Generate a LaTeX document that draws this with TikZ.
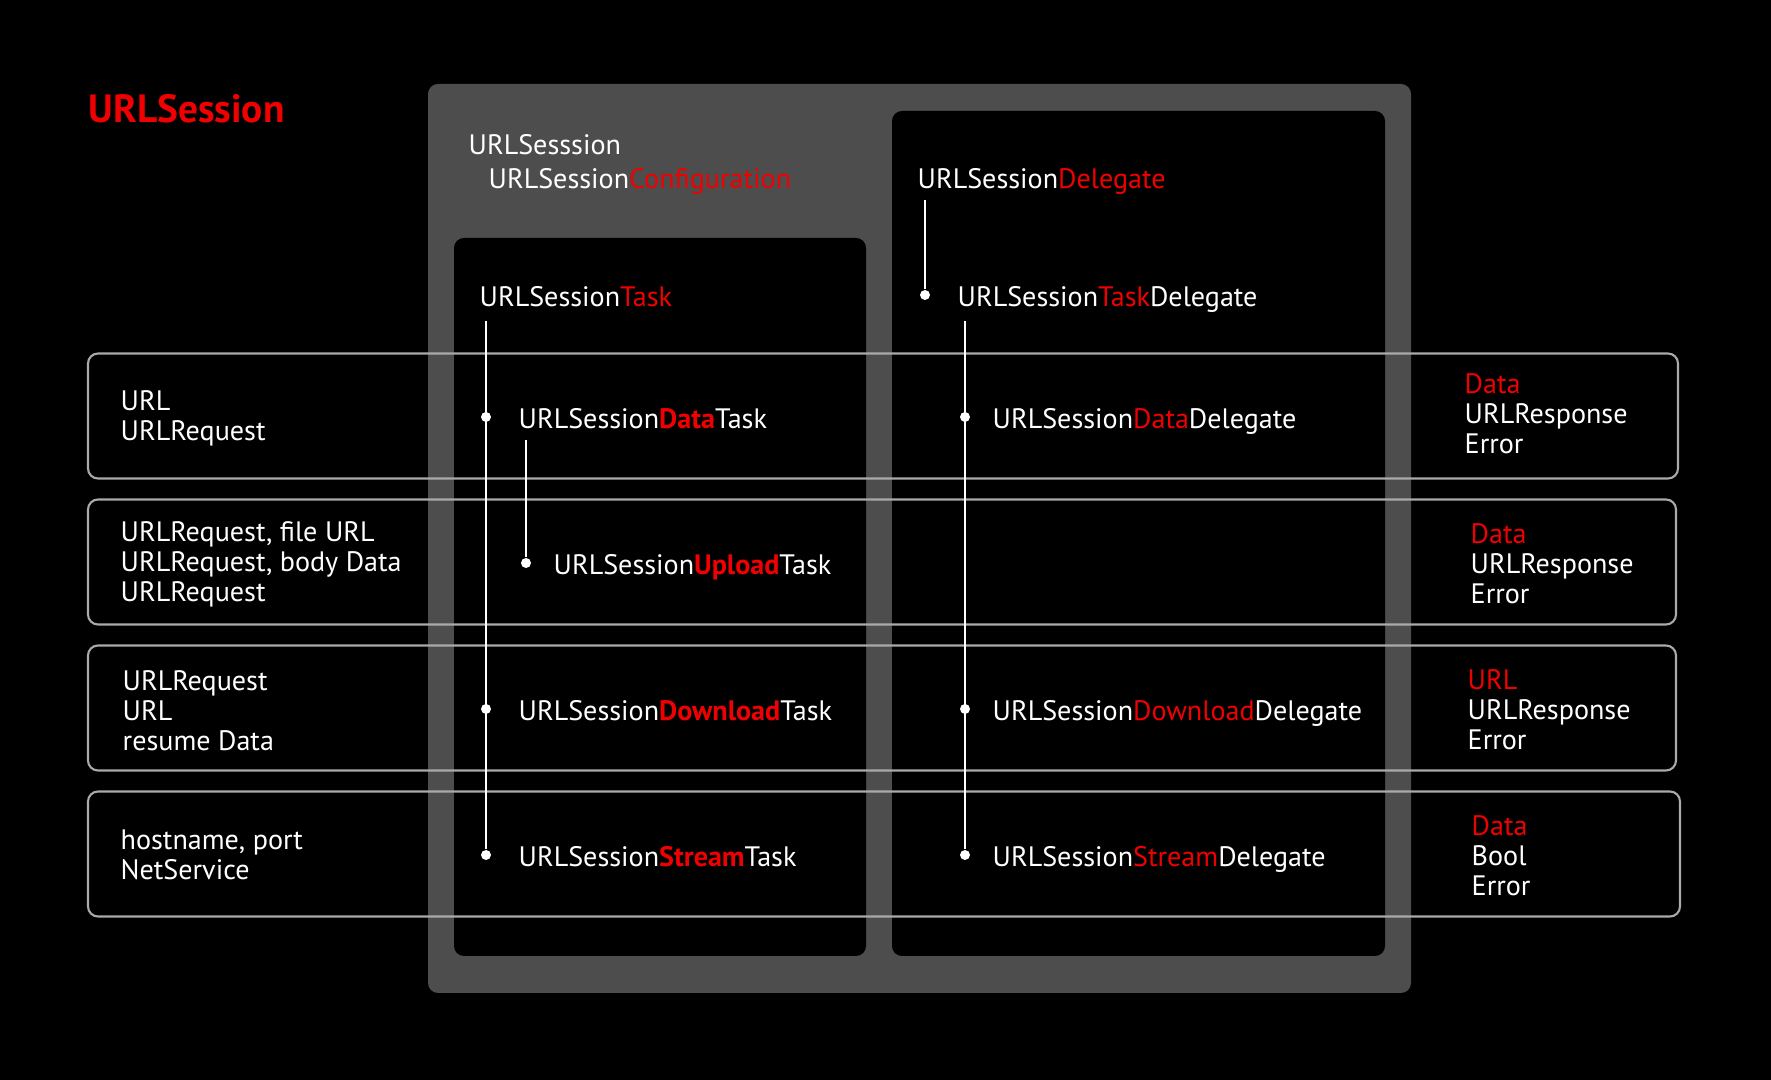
\documentclass[tikz,border=0pt]{standalone}
\usepackage{fontspec}
\setmainfont{PT Sans}
\usetikzlibrary{positioning}
\definecolor{urlred}{RGB}{240,0,0}
\definecolor{panelgray}{RGB}{77,77,77}
\definecolor{rowline}{RGB}{170,170,170}
\newcommand{\redpart}[1]{\textcolor{urlred}{#1}}
\newcommand{\redbold}[1]{\textcolor{urlred}{\bfseries #1}}

\begin{document}
\begin{tikzpicture}[
  every node/.style={text=white,inner sep=0pt,font=\fontsize{8}{8.6}\selectfont},
  lbl/.style={anchor=base west},
  blk/.style={anchor=west,align=left},
  dot/.style={circle,fill=white,minimum size=0.1cm},
  conn/.style={white,line width=0.5pt},
  rowbox/.style={draw=rowline,line width=0.6pt,rounded corners=0.1cm}]
\fill[black] (0,0) rectangle (17.71,10.80);
\useasboundingbox (0,0) rectangle (17.71,10.80);
% panels
\fill[panelgray,rounded corners=0.1cm] (4.28,9.96) rectangle (14.11,0.87);
\fill[black,rounded corners=0.1cm] (4.54,8.42) rectangle (8.66,1.24);
\fill[black,rounded corners=0.1cm] (8.92,9.69) rectangle (13.85,1.24);
% rows
\draw[rowbox] (0.88,7.265) rectangle (16.78,6.015);
\draw[rowbox] (0.88,5.805) rectangle (16.76,4.555);
\draw[rowbox] (0.88,4.345) rectangle (16.76,3.095);
\draw[rowbox] (0.88,2.885) rectangle (16.80,1.635);
%
\node[lbl,text=urlred,font=\fontsize{11.2}{13}\selectfont\bfseries] (title) at (0.88,9.57) {URLSession};
\node[lbl] (sess) at (4.68,9.255) {URLSesssion};
\node[lbl] (conf) at (4.88,8.915) {URLSession\redpart{Configuration}};
\node[lbl] (deleg) at (9.17,8.915) {URLSession\redpart{Delegate}};
\node[lbl] (task) at (4.79,7.735) {URLSession\redpart{Task}};
\node[lbl] (taskdel) at (9.57,7.735) {URLSession\redpart{Task}Delegate};
%
\node[lbl] (datatask) at (5.18,6.515) {URLSession\redbold{Data}Task};
\node[lbl] (uptask) at (5.53,5.055) {URLSession\redbold{Upload}Task};
\node[lbl] (dltask) at (5.18,3.595) {URLSession\redbold{Download}Task};
\node[lbl] (sttask) at (5.18,2.135) {URLSession\redbold{Stream}Task};
\node[lbl] (datadel) at (9.92,6.515) {URLSession\redpart{Data}Delegate};
\node[lbl] (dldel) at (9.92,3.595) {URLSession\redpart{Download}Delegate};
\node[lbl] (stdel) at (9.92,2.135) {URLSession\redpart{Stream}Delegate};
%
\node[blk] (in1) at (1.20,6.62) {URL\\URLRequest};
\node[blk] (in2) at (1.20,5.155) {URLRequest, file URL\\URLRequest, body Data\\URLRequest};
\node[blk] (in3) at (1.22,3.695) {URLRequest\\URL\\resume Data};
\node[blk] (in4) at (1.20,2.25) {hostname, port\\NetService};
\node[blk] (out1) at (14.64,6.66) {\redpart{Data}\\URLResponse\\Error};
\node[blk] (out2) at (14.70,5.16) {\redpart{Data}\\URLResponse\\Error};
\node[blk] (out3) at (14.67,3.70) {\redpart{URL}\\URLResponse\\Error};
\node[blk] (out4) at (14.71,2.24) {\redpart{Data}\\Bool\\Error};
%
\node[dot] (d1) at (4.86,6.63) {};
\node[dot] (d2) at (5.26,5.17) {};
\node[dot] (d3) at (4.86,3.71) {};
\node[dot] (d4) at (4.86,2.25) {};
\node[dot] (e0) at (9.25,7.85) {};
\node[dot] (e1) at (9.65,6.63) {};
\node[dot] (e3) at (9.65,3.71) {};
\node[dot] (e4) at (9.65,2.25) {};
\coordinate (tasktop) at (4.86,7.59);
\coordinate (uptop) at (5.26,6.40);
\coordinate (deltop) at (9.25,8.80);
\coordinate (tdeltop) at (9.65,7.59);
%
\draw[conn] (tasktop) -- (d4);
\draw[conn] (uptop) -- (d2);
\draw[conn] (deltop) -- (e0);
\draw[conn] (tdeltop) -- (e4);
\end{tikzpicture}
\end{document}
